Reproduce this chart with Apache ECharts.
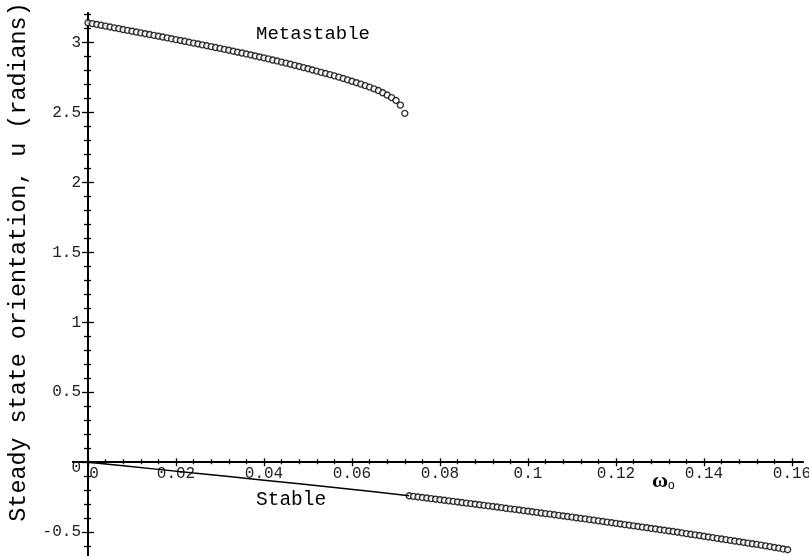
<!DOCTYPE html>
<html>
<head>
<meta charset="utf-8">
<script src="https://cdn.jsdelivr.net/npm/echarts@6/dist/echarts.min.js"></script>
<style>
html, body { margin: 0; padding: 0; background: #fff; }
#chart { width: 809px; height: 556px; }
</style>
</head>
<body>
<div id="chart"></div>
<script>
// Metastable branch (open circles)
const omegaMeta = [
  0.000, 0.001, 0.002, 0.003, 0.004, 0.005, 0.006, 0.007, 0.008, 0.009,
  0.010, 0.011, 0.012, 0.013, 0.014, 0.015, 0.016, 0.017, 0.018, 0.019,
  0.020, 0.021, 0.022, 0.023, 0.024, 0.025, 0.026, 0.027, 0.028, 0.029,
  0.030, 0.031, 0.032, 0.033, 0.034, 0.035, 0.036, 0.037, 0.038, 0.039,
  0.040, 0.041, 0.042, 0.043, 0.044, 0.045, 0.046, 0.047, 0.048, 0.049,
  0.050, 0.051, 0.052, 0.053, 0.054, 0.055, 0.056, 0.057, 0.058, 0.059,
  0.060, 0.061, 0.062, 0.063, 0.064, 0.065, 0.066, 0.067, 0.068, 0.069,
  0.070, 0.071, 0.072
];
const uMeta = [
  3.140, 3.134, 3.128, 3.122, 3.116, 3.110, 3.104, 3.098, 3.092, 3.086,
  3.080, 3.074, 3.068, 3.062, 3.056, 3.050, 3.044, 3.038, 3.032, 3.026,
  3.020, 3.014, 3.008, 3.001, 2.995, 2.989, 2.982, 2.976, 2.970, 2.963,
  2.957, 2.950, 2.944, 2.937, 2.930, 2.924, 2.917, 2.910, 2.903, 2.896,
  2.889, 2.882, 2.874, 2.867, 2.859, 2.852, 2.844, 2.836, 2.828, 2.820,
  2.812, 2.803, 2.795, 2.786, 2.778, 2.770, 2.761, 2.752, 2.742, 2.732,
  2.722, 2.712, 2.702, 2.691, 2.680, 2.668, 2.656, 2.640, 2.624, 2.605,
  2.585, 2.552, 2.493
];

// Stable branch, solid curve part
const omegaStableLine = [0.000, 0.008, 0.016, 0.024, 0.032, 0.040, 0.048, 0.056, 0.064, 0.073];
const uStableLine     = [0.000, -0.0255, -0.051, -0.077, -0.102, -0.128, -0.154, -0.181, -0.208, -0.240];

// Stable branch, open circles
const omegaStable = [
  0.073, 0.074, 0.075, 0.076, 0.077, 0.078, 0.079, 0.080, 0.081, 0.082,
  0.083, 0.084, 0.085, 0.086, 0.087, 0.088, 0.089, 0.090, 0.091, 0.092,
  0.093, 0.094, 0.095, 0.096, 0.097, 0.098, 0.099, 0.100, 0.101, 0.102,
  0.103, 0.104, 0.105, 0.106, 0.107, 0.108, 0.109, 0.110, 0.111, 0.112,
  0.113, 0.114, 0.115, 0.116, 0.117, 0.118, 0.119, 0.120, 0.121, 0.122,
  0.123, 0.124, 0.125, 0.126, 0.127, 0.128, 0.129, 0.130, 0.131, 0.132,
  0.133, 0.134, 0.135, 0.136, 0.137, 0.138, 0.139, 0.140, 0.141, 0.142,
  0.143, 0.144, 0.145, 0.146, 0.147, 0.148, 0.149, 0.150, 0.151, 0.152,
  0.153, 0.154, 0.155, 0.156, 0.157, 0.158, 0.159
];
const uStable = [
  -0.240, -0.244, -0.248, -0.252, -0.256, -0.260, -0.264, -0.268, -0.272, -0.276,
  -0.280, -0.284, -0.288, -0.292, -0.296, -0.300, -0.304, -0.308, -0.312, -0.316,
  -0.320, -0.324, -0.329, -0.333, -0.337, -0.341, -0.346, -0.350, -0.354, -0.358,
  -0.363, -0.367, -0.371, -0.375, -0.380, -0.384, -0.388, -0.392, -0.397, -0.401,
  -0.405, -0.410, -0.414, -0.419, -0.423, -0.428, -0.432, -0.437, -0.441, -0.446,
  -0.450, -0.455, -0.459, -0.464, -0.468, -0.473, -0.477, -0.482, -0.486, -0.491,
  -0.495, -0.500, -0.505, -0.510, -0.515, -0.519, -0.524, -0.529, -0.534, -0.539,
  -0.544, -0.549, -0.553, -0.558, -0.563, -0.568, -0.573, -0.578, -0.583, -0.587,
  -0.592, -0.598, -0.603, -0.609, -0.614, -0.620, -0.625
];

// Tick values
const xMajorTicks = [0, 0.02, 0.04, 0.06, 0.08, 0.1, 0.12, 0.14, 0.16];
const yMajorTicks = [-0.5, 0, 0.5, 1, 1.5, 2, 2.5, 3];

const X_MIN = -0.0035, X_MAX = 0.1625;
const Y_MIN = -0.67, Y_MAX = 3.21;

// plot frame (px)
const GRID = { left: 72.6, right: 6, top: 13, bottom: 0 };
const W = 809, H = 556;
const plotW = W - GRID.left - GRID.right;
const plotH = H - GRID.top - GRID.bottom;
// the axes cross at (0, 0): shift them inward from the frame edges
const xAxisShift = -(plotH * (0 - Y_MIN) / (Y_MAX - Y_MIN));
const yAxisShift = -(plotW * (0 - X_MIN) / (X_MAX - X_MIN));

// minor ticks: split each major step into n parts, kept inside [lo, hi]
function minorTicks(major, n, lo, hi) {
  const step = (major[1] - major[0]) / n;
  const out = [];
  const start = Math.ceil(lo / step), end = Math.floor(hi / step);
  for (let k = start; k <= end; k++) {
    if (k % n === 0) continue;
    out.push(Math.round(k * step * 1e6) / 1e6);
  }
  return out;
}
const xMinorTicks = minorTicks(xMajorTicks, 5, X_MIN, X_MAX);
const yMinorTicks = minorTicks(yMajorTicks, 5, Y_MIN, Y_MAX);

const MONO = '"Liberation Mono", "Courier New", monospace';
const LABEL_COLOR = '#222';
const pairs = (xs, ys) => xs.map((x, i) => [x, ys[i]]);

function xLayer(ticks, len, inside, withLabels) {
  return {
    type: 'value', position: 'bottom', offset: xAxisShift, min: X_MIN, max: X_MAX,
    axisLine: { show: true, onZero: false, lineStyle: { color: '#000', width: 1.5 } },
    axisTick: { show: true, customValues: ticks, length: len, inside: inside, lineStyle: { color: '#000', width: 1.3 } },
    axisLabel: withLabels ? {
      show: true, customValues: xMajorTicks, margin: 4,
      fontFamily: MONO, fontSize: 16, color: LABEL_COLOR,
      formatter: v => v === 0 ? '{z|0}' : String(v),
      rich: { z: { padding: [0, 0, 0, 12], fontFamily: MONO, fontSize: 16, color: LABEL_COLOR } }
    } : { show: false },
    splitLine: { show: false }
  };
}
function yLayer(ticks, len, inside, withLabels) {
  return {
    type: 'value', position: 'left', offset: yAxisShift, min: Y_MIN, max: Y_MAX,
    axisLine: { show: true, onZero: false, lineStyle: { color: '#000', width: 1.5 } },
    axisTick: { show: true, customValues: ticks, length: len, inside: inside, lineStyle: { color: '#000', width: 1.3 } },
    axisLabel: withLabels ? {
      show: true, customValues: yMajorTicks, margin: 7,
      fontFamily: MONO, fontSize: 16, color: LABEL_COLOR,
      formatter: v => v === 0 ? '{z|0}' : String(v),
      rich: { z: { padding: [12, 0, 0, 0], fontFamily: MONO, fontSize: 16, color: LABEL_COLOR } }
    } : { show: false },
    splitLine: { show: false }
  };
}

const circleStyle = { color: '#fff', borderColor: '#000', borderWidth: 1.4 };

const chart = echarts.init(document.getElementById('chart'), null, { renderer: 'canvas' });
chart.setOption({
  animation: false,
  backgroundColor: '#fff',
  grid: {
    left: GRID.left, right: GRID.right, top: GRID.top, bottom: GRID.bottom,
    containLabel: false, outerBoundsMode: 'none'
  },
  xAxis: [
    xLayer(xMajorTicks, 4, false, true),
    xLayer(xMajorTicks, 4, true, false),
    xLayer(xMinorTicks, 2, false, false),
    xLayer(xMinorTicks, 3, true, false)
  ],
  yAxis: [
    yLayer(yMajorTicks, 6, false, true),
    yLayer(yMajorTicks, 6, true, false),
    yLayer(yMinorTicks, 4, false, false),
    yLayer(yMinorTicks, 3, true, false)
  ],
  series: [
    {
      name: 'Stable curve', type: 'line', xAxisIndex: 0, yAxisIndex: 0,
      data: pairs(omegaStableLine, uStableLine),
      showSymbol: false, smooth: false,
      lineStyle: { color: '#000', width: 1.5 }
    },
    {
      name: 'Metastable', type: 'scatter', xAxisIndex: 0, yAxisIndex: 0,
      data: pairs(omegaMeta, uMeta),
      symbol: 'circle', symbolSize: 6, itemStyle: circleStyle
    },
    {
      name: 'Stable', type: 'scatter', xAxisIndex: 0, yAxisIndex: 0,
      data: pairs(omegaStable, uStable),
      symbol: 'circle', symbolSize: 6, itemStyle: circleStyle
    }
  ],
  graphic: [
    {
      type: 'text', x: 256, y: 34,
      style: { text: 'Metastable', font: '19px ' + MONO, fill: '#000', align: 'left', verticalAlign: 'middle' }
    },
    {
      type: 'text', x: 256, y: 500,
      style: { text: 'Stable', font: '19.5px ' + MONO, fill: '#000', align: 'left', verticalAlign: 'middle' }
    },
    {
      type: 'text', x: 19, y: 262, rotation: Math.PI / 2,
      style: { text: 'Steady state orientation, u (radians)', font: '23.4px ' + MONO, fill: '#000', align: 'center', verticalAlign: 'middle' }
    },
    {
      type: 'text', x: 652, y: 470,
      style: {
        text: '{w|ω}{s|o}',
        rich: {
          w: { fontFamily: '"Liberation Serif", serif', fontSize: 22, fontWeight: 'bold', fill: '#000', verticalAlign: 'top' },
          s: { fontFamily: '"Liberation Sans", sans-serif', fontSize: 12, fill: '#000', padding: [10, 0, 0, 0] }
        }
      }
    }
  ]
});
</script>
</body>
</html>
